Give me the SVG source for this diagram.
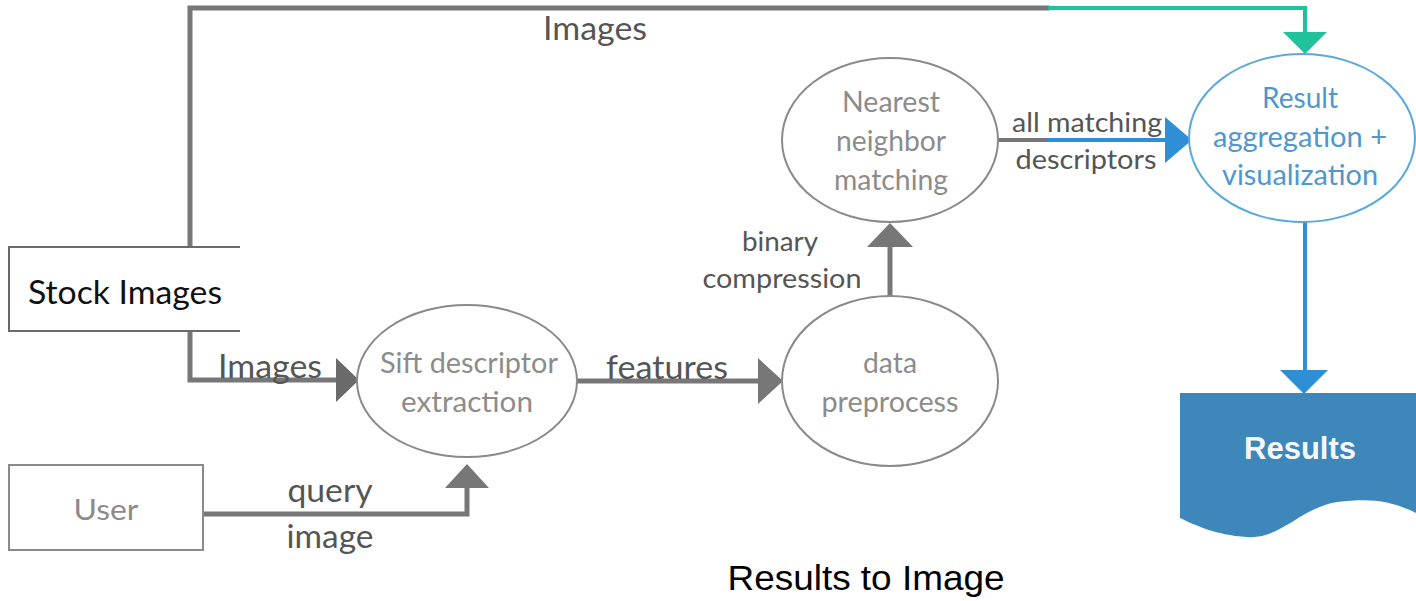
<svg xmlns="http://www.w3.org/2000/svg" width="1416" height="601" viewBox="0 0 1416 601">
<style>
text{lengthAdjust:spacingAndGlyphs}
.lbl{font-family:Lato,"Open Sans","Liberation Sans",sans-serif;fill:#555;font-size:33px;text-anchor:middle}
.sm{font-size:27px}
.nt{font-family:Lato,"Open Sans","Liberation Sans",sans-serif;fill:#8c8c8c;font-size:28px;text-anchor:middle}
.bl{fill:#4f97cf}
.ell{fill:#fff;stroke:#8a8a8a;stroke-width:2}
.ln{fill:none;stroke:#777;stroke-width:5}
.gr{fill:#777}
</style>
<rect width="1416" height="601" fill="#fff"/>
<g id="connectors">
  <polyline class="ln" points="190,246 190,8 1050,8" stroke="#6a6a6a"/>
  <polyline points="1048,8 1305,8 1305,34" fill="none" stroke="#20c19c" stroke-width="4"/>
  <polygon points="1283,32 1327,32 1305,54" fill="#20c19c"/>
  <polyline class="ln" points="190,331 190,380 340,380" stroke="#6a6a6a"/>
  <polygon points="336,358 336,402 359,380" fill="#6a6a6a"/>
  <line class="ln" x1="577" y1="381" x2="760" y2="381"/>
  <polygon class="gr" points="758,358 758,404 783,381"/>
  <line class="ln" x1="890" y1="296" x2="890" y2="245"/>
  <polygon class="gr" points="867,247 913,247 890,223"/>
  <polyline class="ln" points="203,514 467,514 467,486"/>
  <polygon class="gr" points="445,488 489,488 467,464"/>
  <line x1="998" y1="140" x2="1050" y2="140" stroke="#777" stroke-width="4"/>
  <line x1="1048" y1="140" x2="1168" y2="140" stroke="#2e8fd6" stroke-width="4"/>
  <polygon points="1165,117 1165,163 1192,140" fill="#2e8fd6"/>
  <line x1="1305" y1="222" x2="1305" y2="372" stroke="#2e8fd6" stroke-width="4"/>
  <polygon points="1280,370 1328,370 1304,394" fill="#2e8fd6"/>
  <text class="lbl" x="595" y="40" textLength="104" lengthAdjust="spacingAndGlyphs">Images</text>
  <text class="lbl" x="270" y="378" textLength="104" lengthAdjust="spacingAndGlyphs">Images</text>
  <text class="lbl" x="667" y="379" textLength="122" lengthAdjust="spacingAndGlyphs">features</text>
  <text class="lbl sm" x="780" y="251" textLength="76" lengthAdjust="spacingAndGlyphs">binary</text>
  <text class="lbl sm" x="782" y="288" textLength="159" lengthAdjust="spacingAndGlyphs">compression</text>
  <text class="lbl sm" x="1087" y="132" textLength="150" lengthAdjust="spacingAndGlyphs">all matching</text>
  <text class="lbl sm" x="1086" y="169" textLength="141" lengthAdjust="spacingAndGlyphs">descriptors</text>
  <text class="lbl" x="330" y="502" textLength="85" lengthAdjust="spacingAndGlyphs">query</text>
  <text class="lbl" x="330" y="548" textLength="87" lengthAdjust="spacingAndGlyphs">image</text>
</g>
<g id="stock">
  <polyline points="240,247 9,247 9,331 240,331" fill="none" stroke="#6a6a6a" stroke-width="2"/>
  <text x="125" y="304" font-family="Lato,'Open Sans','Liberation Sans',sans-serif" font-size="33" fill="#111" text-anchor="middle" textLength="194" lengthAdjust="spacingAndGlyphs">Stock Images</text>
</g>
<g id="user">
  <rect x="9" y="465" width="194" height="85" fill="#fff" stroke="#8a8a8a" stroke-width="2"/>
  <text class="nt" x="106" y="520" font-size="35" textLength="65" lengthAdjust="spacingAndGlyphs">User</text>
</g>
<g id="sift">
  <ellipse class="ell" cx="467" cy="381" rx="110" ry="76"/>
  <text class="nt" x="469" y="373" textLength="178" lengthAdjust="spacingAndGlyphs">Sift descriptor</text>
  <text class="nt" x="467" y="412" textLength="132" lengthAdjust="spacingAndGlyphs">extraction</text>
</g>
<g id="data">
  <ellipse class="ell" cx="890" cy="381" rx="108" ry="85"/>
  <text class="nt" x="890" y="373" textLength="54" lengthAdjust="spacingAndGlyphs">data</text>
  <text class="nt" x="890" y="412" textLength="137" lengthAdjust="spacingAndGlyphs">preprocess</text>
</g>
<g id="nearest">
  <ellipse class="ell" cx="890" cy="140" rx="108" ry="82"/>
  <text class="nt" x="891" y="112" textLength="98" lengthAdjust="spacingAndGlyphs">Nearest</text>
  <text class="nt" x="891" y="151" textLength="110" lengthAdjust="spacingAndGlyphs">neighbor</text>
  <text class="nt" x="891" y="190" textLength="114" lengthAdjust="spacingAndGlyphs">matching</text>
</g>
<g id="result">
  <ellipse cx="1302" cy="138" rx="113" ry="84" fill="#fff" stroke="#5aa8dc" stroke-width="2"/>
  <text class="nt bl" x="1300" y="108" textLength="76" lengthAdjust="spacingAndGlyphs">Result</text>
  <text class="nt bl" x="1300" y="147" textLength="174" lengthAdjust="spacingAndGlyphs">aggregation +</text>
  <text class="nt bl" x="1300" y="185" textLength="156" lengthAdjust="spacingAndGlyphs">visualization</text>
</g>
<g id="results">
  <path d="M1180,393 H1416 V513 C1390,500 1370,498 1337,502 C1300,508 1280,540 1247,537 C1215,535 1195,525 1180,518 Z" fill="#3d87bb"/>
  <text x="1300" y="459" font-family="'Liberation Sans',Arial,sans-serif" font-size="31" font-weight="bold" fill="#f4f8fb" text-anchor="middle" textLength="112" lengthAdjust="spacingAndGlyphs">Results</text>
</g>
<text x="866" y="590" font-family="'Liberation Sans',Arial,sans-serif" font-size="35" fill="#000" text-anchor="middle" textLength="277" lengthAdjust="spacingAndGlyphs">Results to Image</text>
</svg>
